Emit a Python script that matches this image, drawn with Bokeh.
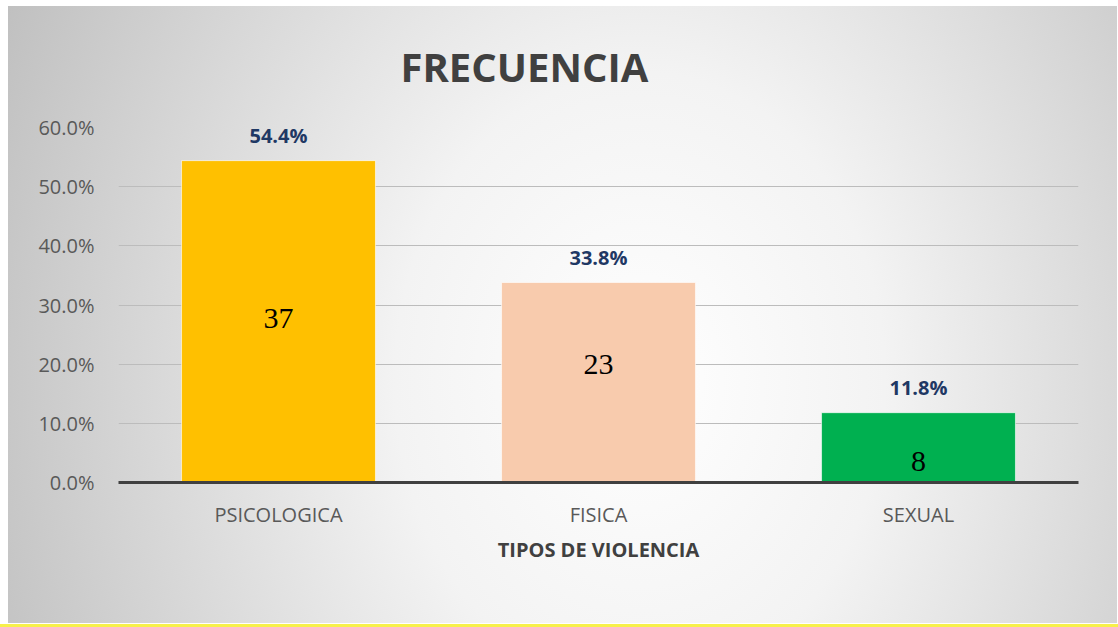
from bokeh.plotting import figure
from bokeh.models import ColumnDataSource, FixedTicker, NumeralTickFormatter, LabelSet
from bokeh.embed import file_html
from bokeh.resources import INLINE
from bokeh.core.properties import value

# ---- data ----
categories = ["PSICOLOGICA", "FISICA", "SEXUAL"]
percentages = [0.544, 0.338, 0.118]
pct_labels = ["54.4%", "33.8%", "11.8%"]
counts = [37, 23, 8]
colors = ["#FFC000", "#F8CBAD", "#00B050"]
y_ticks = [0.0, 0.1, 0.2, 0.3, 0.4, 0.5, 0.6]
title_text = "FRECUENCIA"
x_title = "TIPOS DE VIOLENCIA"
# placement of the count text boxes, as a fraction of each bar's height
count_label_frac = [0.51, 0.59, 0.30]

src = ColumnDataSource(dict(
    cat=categories,
    pct=percentages,
    lab=pct_labels,
    cnt=[str(c) for c in counts],
    cnt_y=[v * f for v, f in zip(percentages, count_label_frac)],
    color=colors,
))

p = figure(
    x_range=categories, y_range=(0, 0.6),
    width=1118, height=627,
    output_backend="svg", toolbar_location=None,
    min_border_left=118, min_border_right=40,
    min_border_top=127, min_border_bottom=145,
    title=title_text,
)
p.styles = {
    "background": (
        "linear-gradient(#f7f04a, #f7f04a) 0px 624px / 1118px 3px no-repeat, "
        "radial-gradient(ellipse 700px 880px at 632px 374px, #ffffff 0%, #f3f3f3 35%, #c0c0c0 100%) "
        "8px 6px / 1109px 617px no-repeat, #ffffff"
    ),
}
p.border_fill_color = None
p.background_fill_color = None
p.outline_line_color = None

p.title.text_font = "Open Sans"
p.title.text_font_size = "40px"
p.title.text_font_style = "bold"
p.title.text_color = "#404040"
p.title.align = "left"
p.title.offset = 282
p.title.standoff = 68

p.vbar(x="cat", top="pct", width=0.606, source=src, fill_color="color",
       line_color="#ffffff", line_width=1, line_alpha=0.6)

p.x_range.range_padding = 0

# grid
p.xgrid.grid_line_color = None
p.ygrid.grid_line_color = "#bcbcbc"
p.ygrid.grid_line_width = 1
p.ygrid.ticker = FixedTicker(ticks=y_ticks)

# y axis
p.yaxis.ticker = FixedTicker(ticks=y_ticks)
p.yaxis.formatter = NumeralTickFormatter(format="0.0%")
p.yaxis.axis_line_color = None
p.yaxis.major_tick_line_color = None
p.yaxis.minor_tick_line_color = None
p.yaxis.major_label_text_font = "Open Sans"
p.yaxis.major_label_text_font_size = "20px"
p.yaxis.major_label_text_color = "#595959"
p.yaxis.major_label_standoff = 18

# x axis
p.xaxis.axis_line_color = "#404040"
p.xaxis.axis_line_width = 3
p.xaxis.major_tick_line_color = None
p.xaxis.minor_tick_line_color = None
p.xaxis.major_label_text_font = "Open Sans"
p.xaxis.major_label_text_font_size = "20px"
p.xaxis.major_label_text_color = "#595959"
p.xaxis.major_label_standoff = 12
p.xaxis.axis_label = x_title
p.xaxis.axis_label_text_font = "Open Sans"
p.xaxis.axis_label_text_font_size = "20px"
p.xaxis.axis_label_text_font_style = "bold"
p.xaxis.axis_label_text_color = "#404040"
p.xaxis.axis_label_standoff = 5

# percentage labels above bars
p.add_layout(LabelSet(x="cat", y="pct", text="lab", source=src,
                      y_offset=25, text_align="center", text_baseline="middle",
                      text_font=value("Open Sans"), text_font_size="20px",
                      text_font_style="bold", text_color="#1F3864"))

# count labels inside bars
p.text(x="cat", y="cnt_y", text="cnt", source=src,
       text_align="center", text_baseline="middle",
       text_font=value("Liberation Serif"), text_font_size="30px",
       text_color="#000000")

open("out.html", "w").write(file_html(p, INLINE))
